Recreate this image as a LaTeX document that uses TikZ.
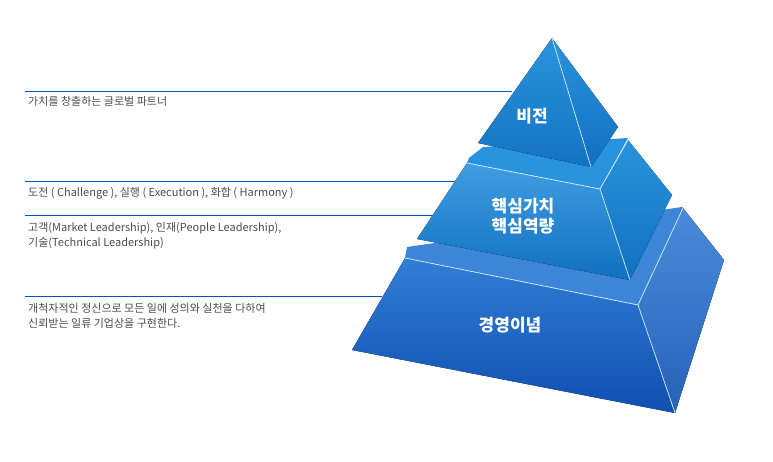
\documentclass[tikz,border=0pt]{standalone}
\usepackage{fontspec}
\newfontfamily\kr{Noto Sans CJK KR}
\begin{document}
\begin{tikzpicture}[x=1pt,y=-1pt,
  lbl/.style={anchor=north west,font=\kr\fontsize{11}{15}\selectfont,text=black!70,inner sep=0,align=left},
  ln/.style={draw=blue!60!cyan!80!black,line width=0.6pt},
  edge/.style={draw=white!85!cyan,line width=0.7pt},
  title/.style={font=\kr\bfseries\fontsize{17}{19}\selectfont,text=white,align=center}]
\useasboundingbox (0,0) rectangle (773,462);
\definecolor{ca}{HTML}{2A93DD}\definecolor{cb}{HTML}{1170C0}
\definecolor{cc}{HTML}{1B6FD0}\definecolor{cd}{HTML}{0F4FB0}
% lines
\coordinate (l1a) at (25,91); \coordinate (l1b) at (512,91);
\coordinate (l2a) at (25,181); \coordinate (l2b) at (458,181);
\coordinate (l3a) at (25,215); \coordinate (l3b) at (435,215);
\coordinate (l4a) at (25,296); \coordinate (l4b) at (382,296);
\draw[ln] (l1a)--(l1b); \draw[ln] (l2a)--(l2b); \draw[ln] (l3a)--(l3b); \draw[ln] (l4a)--(l4b);
% bottom tier
\fill[top color=cc!90!white,bottom color=cd] (405,258)--(638,305)--(675,413)--(352,350)--cycle;
\fill[top color=cc!80!white,bottom color=cd!90] (638,305)--(683,208)--(724,260)--(675,413)--cycle;
\fill[cc!85!white] (407,247)--(682,207)--(683,208)--(638,305)--(405,258)--cycle;
\draw[edge] (405,258)--(638,305)--(675,413); \draw[edge] (638,305)--(683,208);
% middle tier
\fill[top color=ca!90,bottom color=cb] (467,163)--(600,189)--(630,280)--(417,239)--cycle;
\fill[top color=ca,bottom color=cb] (600,189)--(628,140)--(672,195)--(630,280)--cycle;
\fill[ca] (469,158)--(483,147)--(628,138)--(600,189)--(467,163)--cycle;
\draw[edge] (467,163)--(600,189)--(630,280); \draw[edge] (600,189)--(628,140);
% top tier
\fill[top color=ca,bottom color=cb!90!ca] (552,38)--(591,167)--(478,143)--cycle;
\fill[top color=ca,bottom color=cb] (552,38)--(618,127)--(591,167)--cycle;
\draw[edge] (552,38)--(591,167);
% titles
\node[title] (t1) at (532,116) {비전};
\node[title,font=\kr\bfseries\fontsize{17}{20}\selectfont] (t2) at (523,216) {핵심가치\\핵심역량};
\node[title] (t3) at (510,325) {경영이념};
% labels
\node[lbl] (a) at (28,96) {가치를 창출하는 글로벌 파트너};
\node[lbl] (b) at (28,187) {도전 ( Challenge ), 실행 ( Execution ), 화합 ( Harmony )};
\node[lbl] (c) at (28,222) {고객(Market Leadership), 인재(People Leadership),\\기술(Technical Leadership)};
\node[lbl] (d) at (28,303) {개척자적인 정신으로 모든 일에 성의와 실천을 다하여\\신뢰받는 일류 기업상을 구현한다.};
\end{tikzpicture}
\end{document}
